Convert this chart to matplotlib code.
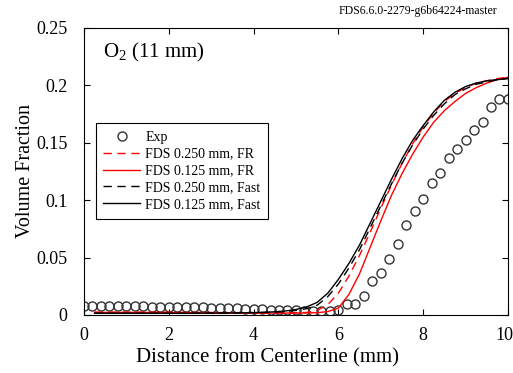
import matplotlib
matplotlib.use('Agg')
import matplotlib.pyplot as plt
import matplotlib.transforms as mtransforms
import numpy as np

plt.rcParams['font.family'] = ['Liberation Serif', 'DejaVu Serif']
plt.rcParams['mathtext.fontset'] = 'custom'
plt.rcParams['mathtext.rm'] = 'Liberation Serif'

# Experimental data (every 0.2 mm)
exp_x = np.arange(0, 10.01, 0.2)
exp_y = [0.0075, 0.0075, 0.0075, 0.0075, 0.0075, 0.0075, 0.0075, 0.0075, 0.0074, 0.0074,
         0.0073, 0.0072, 0.0070, 0.0068, 0.0066, 0.0064, 0.0062, 0.0060, 0.0058, 0.0055,
         0.0052, 0.0050, 0.0047, 0.0045, 0.0042, 0.0040, 0.0038, 0.0036, 0.0035, 0.0035,
         0.0044, 0.0093, 0.0093, 0.0168, 0.0300, 0.0370, 0.0488, 0.0620, 0.0780, 0.0906,
         0.1010, 0.1147, 0.1240, 0.1370, 0.1443, 0.1520, 0.1610, 0.1680, 0.1810, 0.1880,
         0.1880]

# model grid (every 0.25 mm)
fds_x = np.arange(0.25, 10.01, 0.25)
fr_250 = [0.0025, 0.0025, 0.0025, 0.0025, 0.0025, 0.0025, 0.0024, 0.0024, 0.0023, 0.0023,
          0.0022, 0.0022, 0.0021, 0.0021, 0.0020, 0.0020, 0.0020, 0.0020, 0.0020, 0.0021,
          0.0022, 0.0040, 0.0090, 0.0190, 0.0340, 0.0520, 0.0720, 0.0930, 0.1130, 0.1320,
          0.1490, 0.1640, 0.1760, 0.1860, 0.1930, 0.1980, 0.2020, 0.2040, 0.2060, 0.2070]
fr_125 = [0.0022, 0.0022, 0.0022, 0.0022, 0.0022, 0.0022, 0.0021, 0.0021, 0.0020, 0.0020,
          0.0019, 0.0019, 0.0018, 0.0018, 0.0017, 0.0017, 0.0017, 0.0017, 0.0017, 0.0017,
          0.0018, 0.0020, 0.0030, 0.0060, 0.0180, 0.0360, 0.0590, 0.0820, 0.1040, 0.1230,
          0.1400, 0.1550, 0.1680, 0.1780, 0.1860, 0.1930, 0.1980, 0.2020, 0.2050, 0.2070]
fast_250 = [0.0015, 0.0015, 0.0015, 0.0015, 0.0015, 0.0015, 0.0015, 0.0015, 0.0015, 0.0015,
            0.0016, 0.0016, 0.0017, 0.0018, 0.0019, 0.0020, 0.0022, 0.0025, 0.0030, 0.0040,
            0.0055, 0.0085, 0.0160, 0.0270, 0.0410, 0.0570, 0.0760, 0.0950, 0.1140, 0.1320,
            0.1480, 0.1620, 0.1740, 0.1840, 0.1920, 0.1970, 0.2010, 0.2030, 0.2050, 0.2060]
fast_125 = [0.0015, 0.0015, 0.0015, 0.0015, 0.0015, 0.0015, 0.0015, 0.0015, 0.0015, 0.0015,
            0.0016, 0.0016, 0.0017, 0.0018, 0.0019, 0.0021, 0.0024, 0.0028, 0.0035, 0.0048,
            0.0070, 0.0110, 0.0190, 0.0310, 0.0450, 0.0610, 0.0800, 0.0990, 0.1180, 0.1360,
            0.1520, 0.1650, 0.1770, 0.1870, 0.1940, 0.1990, 0.2020, 0.2040, 0.2050, 0.2060]

fig = plt.figure(figsize=(5.13, 3.73), dpi=100)
ax = fig.add_axes([0.1637, 0.1555, 0.8265, 0.7695])

ax.plot(exp_x, exp_y, 'o', mfc='none', mec='#333333', ms=6.5, mew=1.0, label='Exp')
ax.plot(fds_x, fr_250, '--', color='red', lw=1.0, dashes=(6, 4), label='FDS 0.250 mm, FR')
ax.plot(fds_x, fr_125, '-', color='red', lw=1.0, label='FDS 0.125 mm, FR')
ax.plot(fds_x, fast_250, '--', color='black', lw=1.0, dashes=(6, 4), label='FDS 0.250 mm, Fast')
ax.plot(fds_x, fast_125, '-', color='black', lw=1.0, label='FDS 0.125 mm, Fast')

ax.set_xlim(0, 10)
ax.set_ylim(0, 0.25)
ax.set_xticks([0, 2, 4, 6, 8, 10])
ax.set_yticks([0, 0.05, 0.1, 0.15, 0.2, 0.25])
ax.set_yticklabels(['0', '0.05', '0.1', '0.15', '0.2', '0.25'])
ax.tick_params(direction='in', top=True, right=True, labelsize=13, length=4)
ax.tick_params(axis='x', pad=9)
ax.tick_params(axis='y', pad=12)

# nudge the last x tick label so it stays inside the figure
last = ax.get_xticklabels()[-1]
last.set_transform(last.get_transform() +
                   mtransforms.ScaledTranslation(-4 / 100, 0, fig.dpi_scale_trans))

ax.set_xlabel('Distance from Centerline (mm)', fontsize=15)
ax.xaxis.set_label_coords(0.434, -0.115)
ax.set_ylabel('Volume Fraction', fontsize=14.5, labelpad=1)

ax.text(0.045, 0.955, 'O$_2$ (11 mm)', transform=ax.transAxes, fontsize=15, va='top')
fig.text(0.969, 0.955, 'FDS6.6.0-2279-g6b64224-master', ha='right', va='bottom', fontsize=8.5)

leg = ax.legend(loc='upper left', bbox_to_anchor=(0.028, 0.669), fontsize=10,
                fancybox=False, edgecolor='black', framealpha=1, borderaxespad=0,
                handlelength=2.6, handletextpad=0.4, labelspacing=0.28, borderpad=0.55)
leg.get_frame().set_linewidth(0.8)

fig.savefig('out.png', dpi=100)
